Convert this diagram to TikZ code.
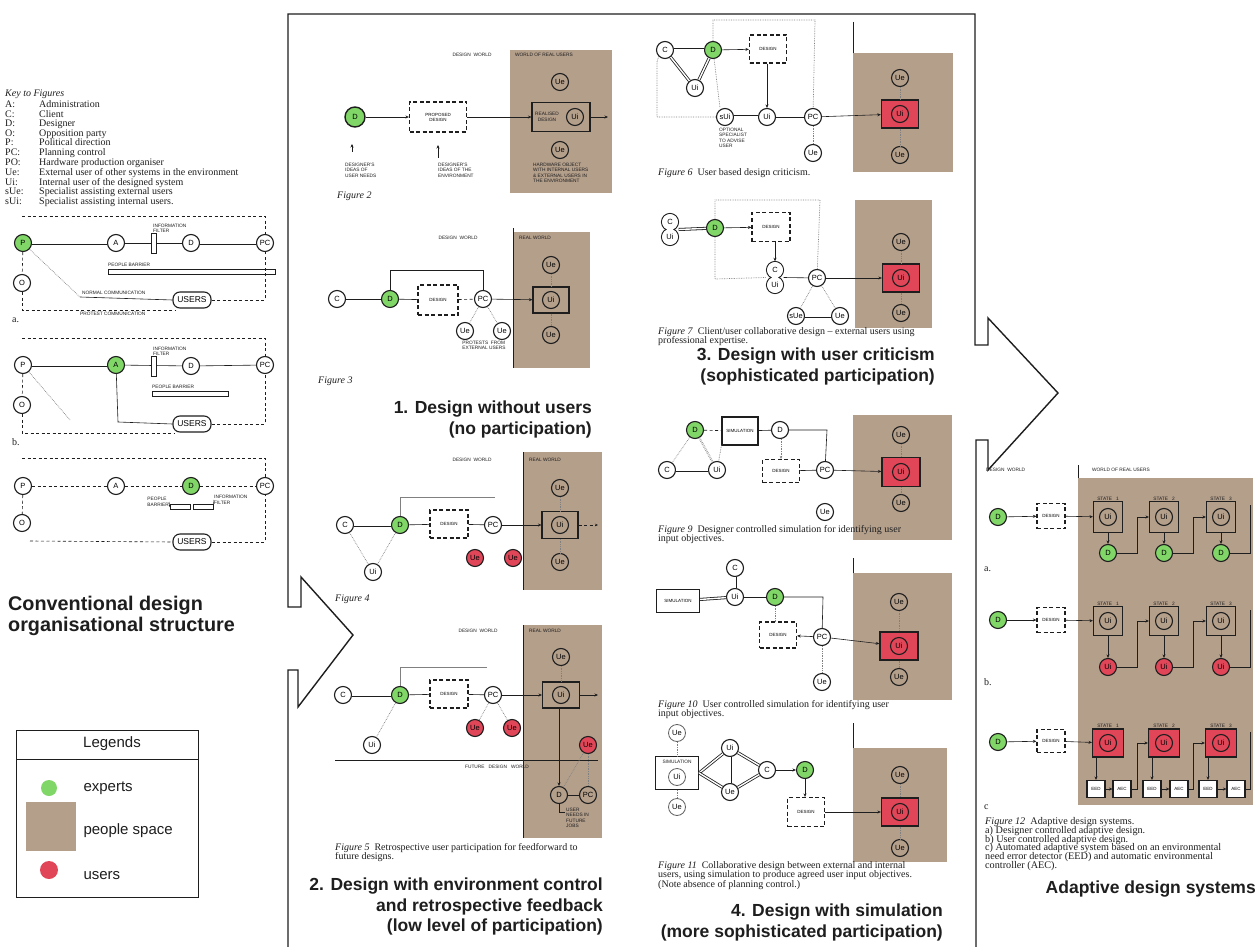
\documentclass[tikz,border=0pt]{standalone}
\usepackage{fontspec}
\setmainfont{Liberation Serif}
\setsansfont{Liberation Sans}
\usetikzlibrary{arrows.meta}
\definecolor{expgreen}{RGB}{128,214,102}
\definecolor{pbrown}{RGB}{180,159,139}
\definecolor{ured}{RGB}{225,70,88}
\definecolor{ink}{RGB}{30,30,30}
\tikzset{
 nd/.style={circle,draw=ink,line width=1.1pt,fill=white,minimum size=17pt,inner sep=0pt,font=\sffamily\fontsize{7.5}{7.5}\selectfont},
 gnd/.style={nd,fill=expgreen},
 rnd/.style={nd,fill=ured},
 dbox/.style={draw=ink,line width=1.2pt,dash pattern=on 4pt off 2.5pt,fill=white,inner sep=0pt,font=\sffamily\fontsize{4.5}{5}\selectfont,align=center},
 sbox/.style={draw=ink,line width=1.1pt,inner sep=0pt,font=\sffamily\fontsize{4.5}{5}\selectfont,align=center},
 lbl/.style={font=\sffamily\fontsize{4.8}{5.4}\selectfont,align=left,inner sep=0pt,text=ink},
 conn/.style={draw=ink,line width=0.6pt},
 arr/.style={conn,-{Stealth[length=3.5pt,width=3pt]}},
 dbl/.style={draw=ink,line width=0.8pt,double=white,double distance=1.4pt},
 dotl/.style={draw=gray,line width=0.7pt,densely dotted},
 dashl/.style={draw=ink,line width=0.6pt,dash pattern=on 3pt off 2.5pt},
 capt/.style={font=\fontsize{10}{9.6}\selectfont,execute at begin node={\lineskiplimit=-10pt\relax},align=left,inner sep=0pt,anchor=north west,text=ink},
 ttl/.style={font=\sffamily\bfseries\fontsize{17.5}{20.5}\selectfont,inner sep=0pt,text=ink},
 users/.style={draw=ink,line width=1.1pt,rounded corners=7pt,minimum width=38pt,minimum height=16pt,inner sep=0pt,font=\sffamily\fontsize{8.5}{8.5}\selectfont,fill=white},
 filt/.style={draw=ink,line width=0.6pt,fill=white,minimum width=5pt,minimum height=20pt,inner sep=0pt},
 bar/.style={draw=ink,line width=0.6pt,fill=white,inner sep=0pt},
 frame/.style={draw=ink,line width=1.4pt,line join=miter},
 redbox/.style={sbox,fill=ured,line width=1.3pt,minimum width=37pt,minimum height=28pt},
}
\begin{document}
\begin{tikzpicture}[x=1pt,y=-1pt]
\useasboundingbox (0,0) rectangle (1259,947);
\fill[white] (0,0) rectangle (1259,947);

% ---------- backgrounds (people space) ----------
\fill[pbrown] (510,50) rectangle (612,193);
\fill[pbrown] (513,232) rectangle (590,368);
\fill[pbrown] (523,452) rectangle (602,590);
\fill[pbrown] (523,625) rectangle (602,838);
\fill[pbrown] (853,53) rectangle (953,172);
\fill[pbrown] (855,200) rectangle (932,328);
\fill[pbrown] (853,415) rectangle (952,540);
\fill[pbrown] (853,573) rectangle (952,700);
\fill[pbrown] (853,748) rectangle (947,862);
\fill[pbrown] (1078,478) rectangle (1253,805);
\draw[conn,line width=1pt] (513,228) -- (513,368);
\draw[conn,line width=1pt] (523,452) -- (523,590);
\draw[conn,line width=1pt] (523,625) -- (523,838);
\draw[conn,line width=1pt] (853,22) -- (853,53);
\draw[conn,line width=1pt] (853,558) -- (853,573);
\draw[conn,line width=1pt] (853,723) -- (853,748);
\draw[conn,line width=1pt] (1078,465) -- (1078,478);

% ---------- main frame with arrows ----------
\draw[frame] (288,947) -- (288,670) -- (298,670) -- (298,707) -- (353,635) -- (301,577) -- (301,607) -- (288,607) -- (288,14) -- (975,14) -- (975,345) -- (988,345) -- (988,318) -- (1058,393) -- (988,470) -- (988,440) -- (976,440) -- (976,947);

% ---------- key ----------
\node[anchor=north west,inner sep=0pt,font=\fontsize{10}{9.4}\selectfont,text=ink] (key) at (5,90) {%
\begin{tabular}{@{}p{34pt}@{}l@{}}
\multicolumn{2}{@{}l@{}}{\textit{Key to Figures}}\\[1pt]
A: & Administration\\
C: & Client\\
D: & Designer\\
O: & Opposition party\\
P: & Political direction\\
PC: & Planning control\\
PO: & Hardware production organiser\\
Ue: & External user of other systems in the environment\\
Ui: & Internal user of the designed system\\
sUe: & Specialist assisting external users\\
sUi: & Specialist assisting internal users.
\end{tabular}};

% ---------- conventional a ----------
\draw[dashl] (22,216) -- (265,216) -- (265,234);
\node[gnd] (aP) at (23,243) {P};
\node[nd] (aA) at (116,243) {A};
\node[nd] (aD) at (191,243) {D};
\node[nd] (aPC) at (265,243) {PC};
\node[nd] (aO) at (22,283) {O};
\draw[dbl] (aP) -- (aA);
\draw[conn] (aA) -- (aD);
\draw[dbl] (aD) -- (aPC);
\node[filt] (aF) at (154,243) {};
\node[lbl,anchor=south west] (aFl) at (153,233) {INFORMATION\\FILTER};
\node[lbl,anchor=south west] (aBl) at (108,267) {PEOPLE BARRIER};
\node[bar,minimum width=167pt,minimum height=5pt,anchor=north west] (aB) at (108,269) {};
\node[users] (aU) at (192,300) {USERS};
\draw[dotl] (aP) -- (80,297);
\draw[conn] (80,297) -- (aU.west);
\node[lbl,anchor=south west] (aNl) at (82,295) {NORMAL COMMUNICATION};
\draw[dashl] (aP) -- (aO);
\draw[dashl] (aO) -- (22,310) -- (175,310);
\node[lbl,anchor=north west] (aPl) at (80,312) {PROTEST COMMUNICATION};
\draw[dashl] (aU.east) -- (265,300) -- (aPC);
\node[capt] (aL) at (12,318) {a.};

% ---------- conventional b ----------
\draw[dashl] (22,338) -- (265,338) -- (265,356);
\node[nd] (bP) at (23,365) {P};
\node[gnd] (bA) at (116,365) {A};
\node[nd] (bD) at (191,366) {D};
\node[nd] (bPC) at (265,365) {PC};
\node[nd] (bO) at (22,405) {O};
\draw[dbl] (bP) -- (bA);
\draw[conn] (bA) -- (bD);
\draw[conn] (bD) -- (bPC);
\node[filt] (bF) at (154,366) {};
\node[lbl,anchor=south west] (bFl) at (153,356) {INFORMATION\\FILTER};
\node[lbl,anchor=south west] (bBl) at (152,389) {PEOPLE BARRIER};
\node[bar,minimum width=76pt,minimum height=5pt,anchor=north west] (bB) at (152,391) {};
\node[users] (bU) at (192,424) {USERS};
\draw[conn] (bA) -- (118,422) -- (bU.west);
\draw[dashl] (bP) -- (bO);
\draw[dashl] (bO) -- (22,433) -- (175,433);
\draw[dotl] (bP) -- (70,420);
\draw[dashl] (bU.east) -- (265,424) -- (bPC);
\node[capt] (bL) at (12,438) {b.};

% ---------- conventional c ----------
\draw[dashl] (22,458) -- (265,458) -- (265,477);
\node[nd] (cP) at (23,486) {P};
\node[nd] (cA) at (116,486) {A};
\node[gnd] (cD) at (191,486) {D};
\node[nd] (cPC) at (265,486) {PC};
\node[nd] (cO) at (22,523) {O};
\draw[dashl] (cP) -- (cA);
\draw[dashl] (cA) -- (cD);
\draw[dashl] (cD) -- (cPC);
\node[bar,minimum width=20pt,minimum height=5pt] (cB) at (180,507) {};
\node[bar,minimum width=20pt,minimum height=5pt] (cF) at (203,507) {};
\node[lbl,anchor=east] (cBl) at (169,502) {PEOPLE\\BARRIER};
\node[lbl,anchor=west] (cFl) at (214,500) {INFORMATION\\FILTER};
\draw[conn] (cBl.east) -- (cB.west);
\draw[conn] (cF.east) -- (cFl.west);
\node[users] (cU) at (192,542) {USERS};
\draw[dashl] (cP) -- (cO);
\draw[dashl] (30,541) -- (cU.west);
\draw[dashl] (cU.east) -- (265,542) -- (cPC);

\node[ttl,anchor=north west,align=left,font=\sffamily\bfseries\fontsize{19.8}{21}\selectfont] (t0) at (8,596) {Conventional design\\organisational structure};

% ---------- legend ----------
\draw[draw=ink,line width=1pt] (16,730) rectangle (198,897);
\draw[draw=ink,line width=1pt] (16,759) -- (198,759);
\node[font=\sffamily\fontsize{15}{15}\selectfont,text=ink] (lgT) at (112,744) {Legends};
\fill[expgreen] (49,788) circle (8pt);
\fill[pbrown] (26,802) rectangle (76,851);
\fill[ured] (49,870) circle (9pt);
\node[font=\sffamily\fontsize{15}{15}\selectfont,anchor=west,text=ink] (lg1) at (80,788) {experts};
\node[font=\sffamily\fontsize{15}{15}\selectfont,anchor=west,text=ink] (lg2) at (80,831) {people space};
\node[font=\sffamily\fontsize{15}{15}\selectfont,anchor=west,text=ink] (lg3) at (80,876) {users};

% ---------- Figure 2 ----------
\node[lbl] (f2w) at (472,55) {DESIGN \ WORLD};
\node[lbl,anchor=west] (f2r) at (515,55) {WORLD OF REAL USERS};
\node[gnd,minimum size=20pt,line width=1.4pt] (f2D) at (355,117) {D};
\node[dbox,minimum width=57pt,minimum height=30pt] (f2P) at (438,117) {PROPOSED\\DESIGN};
\node[sbox,minimum width=58pt,minimum height=29pt,fill=pbrown] (f2R) at (561,117) {};
\node[lbl,align=center] (f2Rt) at (547,117) {REALISED\\DESIGN};
\node[nd,fill=pbrown] (f2Ui) at (575,117) {Ui};
\node[nd,fill=pbrown] (f2Ue1) at (560,82) {Ue};
\node[nd,fill=pbrown] (f2Ue2) at (560,150) {Ue};
\draw[arr] (f2D) -- (f2P);
\draw[arr] (f2P) -- (f2R);
\draw[arr] (f2R.east) -- (608,117);
\node[lbl,anchor=north west] (f2t1) at (345,163) {DESIGNER'S\\IDEAS OF\\USER NEEDS};
\node[lbl,anchor=north west] (f2t2) at (438,163) {DESIGNER'S\\IDEAS OF THE\\ENVIRONMENT};
\node[lbl,anchor=north west] (f2t3) at (533,163) {HARDWARE OBJECT\\WITH INTERNAL USERS\\\& EXTERNAL USERS IN\\THE ENVIRONMENT};
\coordinate (f2a1) at (352,152); \coordinate (f2a1b) at (352,144);
\coordinate (f2a2) at (438,158); \coordinate (f2a2b) at (438,145);
\draw[arr,line width=0.4pt] (f2a1) -- (f2a1b);
\draw[arr,line width=0.4pt] (f2a2) -- (f2a2b);
\node[capt,font=\itshape\fontsize{10}{10}\selectfont] (f2c) at (337,192) {Figure 2};

% ---------- Figure 3 ----------
\node[lbl] (f3w) at (458,238) {DESIGN \ WORLD};
\node[lbl,anchor=west] (f3r) at (519,238) {REAL WORLD};
\node[nd] (f3C) at (337,299) {C};
\node[gnd] (f3D) at (390,299) {D};
\node[dbox,minimum width=40pt,minimum height=30pt] (f3X) at (438,300) {DESIGN};
\node[nd] (f3PC) at (483,299) {PC};
\node[sbox,minimum width=36pt,minimum height=26pt] (f3B) at (551,300) {};
\node[nd,fill=pbrown] (f3Ui) at (551,300) {Ui};
\node[nd,fill=pbrown] (f3Ue1) at (551,265) {Ue};
\node[nd,fill=pbrown] (f3Ue2) at (551,335) {Ue};
\node[nd] (f3Ue3) at (465,331) {Ue};
\node[nd] (f3Ue4) at (502,331) {Ue};
\draw[conn] (f3C) -- (f3D);
\draw[conn] (f3D) -- (f3X);
\draw[dashl] (f3X) -- (f3PC);
\draw[arr] (f3PC) -- (f3B);
\draw[conn] (f3D) -- (390,270) -- (483,270) -- (f3PC);
\draw[dotl] (f3PC) -- (f3Ue3);
\draw[dotl] (f3PC) -- (f3Ue4);
\draw[dotl] (f3Ue1) -- (f3B);
\draw[dotl] (f3B) -- (f3Ue2);
\node[lbl,anchor=north] (f3t) at (484,341) {PROTESTS \ FROM\\EXTERNAL USERS};
\node[capt,font=\itshape\fontsize{10}{10}\selectfont] (f3c) at (318,377) {Figure 3};

\node[ttl,anchor=north east,align=right] (t1) at (592,401) {1. Design without users\\(no participation)};

% ---------- Figure 4 ----------
\node[lbl] (f4w) at (472,460) {DESIGN \ WORLD};
\node[lbl,anchor=west] (f4r) at (529,460) {REAL WORLD};
\node[nd] (f4C) at (345,525) {C};
\node[gnd] (f4D) at (400,525) {D};
\node[dbox,minimum width=38pt,minimum height=28pt] (f4X) at (449,524) {DESIGN};
\node[nd] (f4PC) at (493,525) {PC};
\node[sbox,minimum width=36pt,minimum height=27pt] (f4B) at (560,525) {};
\node[nd,fill=pbrown] (f4Ui) at (560,525) {Ui};
\node[nd,fill=pbrown] (f4Ue1) at (560,488) {Ue};
\node[nd,fill=pbrown] (f4Ue2) at (560,562) {Ue};
\node[rnd] (f4Ue3) at (475,558) {Ue};
\node[rnd] (f4Ue4) at (513,558) {Ue};
\node[nd] (f4Ui2) at (373,572) {Ui};
\draw[dbl] (f4C) -- (f4D);
\draw[conn] (f4D) -- (f4X);
\draw[conn] (f4X) -- (f4PC);
\draw[arr] (f4PC) -- (f4B);
\draw[dashl,-{Stealth[length=3pt,width=2.5pt]}] (f4B) -- (598,525);
\draw[conn,draw=gray] (f4D) -- (400,497) -- (495,497);
\draw[dotl] (f4C) -- (f4Ui2);
\draw[dotl] (f4D) -- (f4Ui2);
\draw[dotl] (f4Ue1) -- (f4B);
\draw[dotl] (f4B) -- (f4Ue2);
\node[capt,font=\itshape\fontsize{10}{10}\selectfont] (f4c) at (335,595) {Figure 4};

% ---------- Figure 5 ----------
\node[lbl] (f5w) at (478,631) {DESIGN \ WORLD};
\node[lbl,anchor=west] (f5r) at (529,631) {REAL WORLD};
\node[nd] (f5C) at (343,695) {C};
\node[gnd] (f5D) at (400,695) {D};
\node[dbox,minimum width=38pt,minimum height=28pt] (f5X) at (449,694) {DESIGN};
\node[nd] (f5PC) at (493,695) {PC};
\node[sbox,minimum width=37pt,minimum height=26pt] (f5B) at (561,695) {};
\node[nd,fill=pbrown] (f5Ui) at (561,695) {Ui};
\node[nd,fill=pbrown] (f5Ue1) at (561,657) {Ue};
\node[rnd] (f5Ue3) at (475,728) {Ue};
\node[rnd] (f5Ue4) at (512,728) {Ue};
\node[rnd] (f5Ue5) at (588,745) {Ue};
\node[nd] (f5Ui2) at (372,745) {Ui};
\draw[dbl] (f5C) -- (f5D);
\draw[conn] (f5D) -- (f5X);
\draw[conn] (f5X) -- (f5PC);
\draw[arr] (f5PC) -- (f5B);
\draw[arr] (f5B) -- (598,695);
\draw[conn,draw=gray] (f5D) -- (400,667) -- (487,667);
\draw[dotl] (f5D) -- (f5Ui2);
\draw[dotl] (f5PC) -- (f5Ue3);
\draw[dotl] (f5PC) -- (f5Ue4);
\draw[dotl] (f5Ue1) -- (f5B);
\draw[conn,line width=1pt] (335,760) -- (598,760);
\node[lbl] (f5f) at (497,767) {FUTURE \ \ DESIGN \ \ WORLD};
\node[nd,fill=pbrown] (f5D2) at (559,795) {D};
\node[nd,fill=pbrown] (f5PC2) at (588,795) {PC};
\draw[arr] (f5B.south -| f5D2.north) -- (f5D2.north);
\draw[conn] (f5D2) -- (f5PC2);
\draw[dotl] (f5Ue5) -- (f5D2);
\draw[dotl] (f5Ue5) -- (f5PC2);
\draw[conn] (f5D2.south) -- (559,812) -- (565,812);
\node[lbl,anchor=north west] (f5t) at (566,808) {USER\\NEEDS IN\\FUTURE\\JOBS};
\node[capt] (f5c) at (335,843) {\textit{Figure 5}\ \ Retrospective user participation for feedforward to\\future designs.};

\node[ttl,anchor=north east,align=right] (t2) at (603,878) {2. Design with environment control\\and retrospective feedback\\(low level of participation)};

% ---------- Figure 6 ----------
\node[nd] (f6C) at (665,50) {C};
\node[gnd] (f6D) at (713,50) {D};
\node[dbox,minimum width=37pt,minimum height=28pt] (f6X) at (768,49) {DESIGN};
\node[nd] (f6Uj) at (695,88) {Ui};
\node[nd] (f6sU) at (725,117) {sUi};
\node[nd] (f6Ui) at (767,117) {Ui};
\node[nd] (f6PC) at (813,117) {PC};
\node[nd] (f6Ue) at (813,153) {Ue};
\node[redbox] (f6B) at (900,114) {};
\node[rnd] (f6Ui2) at (900,114) {Ui};
\node[nd,fill=pbrown] (f6Ue1) at (900,78) {Ue};
\node[nd,fill=pbrown] (f6Ue2) at (900,155) {Ue};
\draw[dbl] (f6D) -- (f6C);
\draw[dbl] (f6C) -- (f6Uj);
\draw[dbl] (f6D) -- (f6Uj);
\draw[arr] (f6D) -- (f6X);
\draw[arr] (f6X.south -| f6Ui.north) -- (f6Ui.north);
\draw[dbl] (f6sU) -- (f6Ui);
\draw[conn] (f6Ui) -- (f6PC);
\draw[arr] (f6PC) -- (f6B);
\draw[dotl] (f6PC) -- (f6Ue);
\draw[dotl] (f6D) -- (713,20) -- (815,20) -- (f6PC);
\draw[dotl] (f6C.south west) -- (657,62) -- (657,117) -- (f6sU);
\draw[dotl] (f6D) -- (720,108);
\draw[dotl] (f6Ue1) -- (f6B);
\draw[dotl] (f6B) -- (f6Ue2);
\node[lbl,anchor=north west] (f6t) at (719,128) {OPTIONAL\\SPECIALIST\\TO ADVISE\\USER};
\node[capt] (f6c) at (658,168) {\textit{Figure 6}\ \ User based design criticism.};

% ---------- Figure 7 ----------
\draw[draw=ink,line width=1.1pt,fill=white] (670,222) circle (8.5pt) (670,237) circle (8.5pt);
\fill[white] (670,222) circle (7.9pt) (670,237) circle (7.9pt);
\node[minimum width=17pt,minimum height=32pt,inner sep=0pt] (f7CU1) at (670,229.5) {};
\node[font=\sffamily\fontsize{7.5}{7.5}\selectfont] (f7C1) at (670,222) {C};
\node[font=\sffamily\fontsize{7.5}{7.5}\selectfont] (f7U1) at (670,237) {Ui};
\draw[draw=ink,line width=1.1pt,fill=white] (775,270) circle (8.5pt) (775,285) circle (8.5pt);
\fill[white] (775,270) circle (7.9pt) (775,285) circle (7.9pt);
\node[minimum width=17pt,minimum height=32pt,inner sep=0pt] (f7CU2) at (775,277.5) {};
\node[font=\sffamily\fontsize{7.5}{7.5}\selectfont] (f7C2) at (775,270) {C};
\node[font=\sffamily\fontsize{7.5}{7.5}\selectfont] (f7U2) at (775,285) {Ui};
\node[gnd] (f7D) at (715,228) {D};
\node[dbox,minimum width=38pt,minimum height=29pt] (f7X) at (771,227) {DESIGN};
\node[nd] (f7PC) at (817,278) {PC};
\node[nd] (f7sU) at (796,316) {sUe};
\node[nd] (f7Ue) at (840,316) {Ue};
\node[redbox] (f7B) at (901,278) {};
\node[rnd] (f7Ui2) at (901,278) {Ui};
\node[nd,fill=pbrown] (f7Ue1) at (901,242) {Ue};
\node[nd,fill=pbrown] (f7Ue2) at (901,313) {Ue};
\draw[dbl] (f7CU1.east) -- (f7D);
\draw[arr] (f7D) -- (f7X);
\draw[arr] (f7X.south -| f7CU2.north) -- (f7CU2.north);
\draw[conn] (f7CU2.east) -- (f7PC);
\draw[arr] (f7PC) -- (f7B);
\draw[dotl] (f7PC) -- (f7sU);
\draw[dotl] (f7PC) -- (f7Ue);
\draw[dbl] (f7sU) -- (f7Ue);
\draw[dotl] (f7D) -- (715,200) -- (820,200) -- (f7PC);
\draw[dotl] (f7D) -- (715,279) -- (f7CU2.west);
\draw[dotl] (f7Ue1) -- (f7B);
\draw[dotl] (f7B) -- (f7Ue2);
\node[capt] (f7c) at (658,327) {\textit{Figure 7}\ \ Client/user collaborative design -- external users using\\professional expertise.};

\node[ttl,anchor=north east,align=right] (t3) at (935,348) {3. Design with user criticism\\(sophisticated participation)};

% ---------- Figure 9 ----------
\node[gnd] (f9D) at (695,430) {D};
\node[sbox,minimum width=36pt,minimum height=28pt,fill=white] (f9S) at (740,431) {SIMULATION};
\node[nd] (f9D2) at (780,430) {D};
\node[nd] (f9C) at (667,470) {C};
\node[nd] (f9Ui) at (717,470) {Ui};
\node[dbox,minimum width=37pt,minimum height=23pt] (f9X) at (781,471) {DESIGN};
\node[nd] (f9PC) at (825,470) {PC};
\node[nd] (f9Ue) at (825,512) {Ue};
\node[redbox,minimum width=38pt,minimum height=29pt] (f9B) at (901,472) {};
\node[rnd] (f9Ui2) at (901,472) {Ui};
\node[nd,fill=pbrown] (f9Ue1) at (901,435) {Ue};
\node[nd,fill=pbrown] (f9Ue2) at (901,503) {Ue};
\draw[dashl] (f9D) -- (f9S);
\draw[conn] (f9S) -- (f9D2);
\draw[conn] (f9D2) -- (827,430) -- (f9PC);
\draw[dotl,-{Stealth[length=3pt,width=2.5pt]}] (f9D2.south -| f9X.north) -- (f9X.north);
\draw[conn] (f9X) -- (f9PC);
\draw[arr] (f9PC) -- (f9B);
\draw[dotl] (f9D) -- (f9C);
\draw[dotl,double] (f9D) -- (f9Ui);
\draw[dbl] (f9C) -- (f9Ui);
\draw[dotl] (f9S.south west) -- (f9Ui);
\draw[dotl] (f9Ue1) -- (f9B);
\draw[dotl] (f9B) -- (f9Ue2);
\node[capt] (f9c) at (658,525) {\textit{Figure 9}\ \ Designer controlled simulation for identifying user\\input objectives.};

% ---------- Figure 10 ----------
\node[nd] (faC) at (735,568) {C};
\node[nd] (faUi) at (735,597) {Ui};
\node[sbox,minimum width=43pt,minimum height=23pt,fill=white] (faS) at (678,601) {SIMULATION};
\node[gnd] (faD) at (775,597) {D};
\node[dbox,minimum width=37pt,minimum height=26pt] (faX) at (778,635) {DESIGN};
\node[nd] (faPC) at (822,637) {PC};
\node[nd] (faUe) at (822,682) {Ue};
\node[redbox,minimum width=38pt,minimum height=28pt] (faB) at (899,646) {};
\node[rnd] (faUi2) at (899,646) {Ui};
\node[nd,fill=pbrown] (faUe1) at (899,602) {Ue};
\node[nd,fill=pbrown] (faUe2) at (899,677) {Ue};
\draw[dbl] (faC) -- (faUi);
\draw[dbl] (faS) -- (faUi);
\draw[conn] (faUi) -- (faD);
\draw[conn] (faD) -- (823,597) -- (faPC);
\draw[dotl] (faD) -- (faD |- faX.north);
\draw[arr] (faPC) -- (faX);
\draw[arr] (faPC) -- (faB);
\draw[dotl] (faPC) -- (faUe);
\draw[dotl] (faUe1) -- (faB);
\draw[dotl] (faB) -- (faUe2);
\node[capt] (fac) at (658,700) {\textit{Figure 10}\ \ User controlled simulation for identifying user\\input objectives.};

% ---------- Figure 11 ----------
\node[sbox,minimum width=43pt,minimum height=33pt,fill=white] (fbS) at (677,773) {};
\node[lbl] (fbSl) at (677,762) {SIMULATION};
\node[nd,draw=ink!70,line width=0.8pt] (fbSi) at (677,777) {Ui};
\node[nd,draw=ink!70,line width=0.8pt] (fbUe1) at (677,733) {Ue};
\node[nd,draw=ink!70,line width=0.8pt] (fbUe2) at (677,807) {Ue};
\node[nd] (fbUi) at (730,748) {Ui};
\node[nd] (fbUe) at (730,792) {Ue};
\node[nd] (fbC) at (767,770) {C};
\node[gnd] (fbD) at (805,770) {D};
\node[dbox,minimum width=37pt,minimum height=29pt] (fbX) at (806,812) {DESIGN};
\node[redbox] (fbB) at (900,812) {};
\node[rnd] (fbUi2) at (900,812) {Ui};
\node[nd,fill=pbrown] (fbUe3) at (900,775) {Ue};
\node[nd,fill=pbrown] (fbUe4) at (900,848) {Ue};
\draw[dotl] (fbUe1) -- (fbS);
\draw[dotl] (fbS) -- (fbUe2);
\draw[dbl] (fbS.east) -- (fbUi);
\draw[dbl] (fbS.east) -- (fbUe);
\draw[dbl] (fbUi) -- (fbUe);
\draw[dbl] (fbUi) -- (fbC);
\draw[dbl] (fbUe) -- (fbC);
\draw[arr] (fbC) -- (fbD);
\draw[arr] (fbD) -- (fbD |- fbX.north);
\draw[arr] (fbX) -- (fbB);
\draw[dotl] (fbUe3) -- (fbB);
\draw[dotl] (fbB) -- (fbUe4);
\node[capt] (fbc) at (658,861) {\textit{Figure 11}\ \ Collaborative design between external and internal\\users, using simulation to produce agreed user input objectives.\\(Note absence of planning control.)};

\node[ttl,anchor=north east,align=right] (t4) at (943,904) {4. Design with simulation\\(more sophisticated participation)};

% ---------- Figure 12 ----------
\node[lbl,anchor=west] (q0) at (986,470) {DESIGN \ WORLD};
\node[lbl,anchor=west] (q1) at (1092,470) {WORLD OF REAL USERS};
% row a
\node[gnd] (qaD) at (998,517) {D};
\node[dbox,minimum width=28pt,minimum height=25pt] (qaX) at (1051,516) {DESIGN};
\foreach \i/\x in {1/1108,2/1164,3/1221}{
 \node[sbox,minimum width=29pt,minimum height=31pt,fill=pbrown] (qaS\i) at (\x,517) {};
 \node[nd,fill=pbrown] (qaU\i) at (\x,517) {Ui};
 \node[lbl,anchor=south] (qaT\i) at (\x,501) {STATE \ \ \i};
 \node[gnd] (qaL\i) at (\x,553) {D};
 \draw[arr] (qaS\i.south) -- (qaL\i.north);
}
\draw[arr] (qaD) -- (qaX);
\draw[arr] (qaX) -- (qaS1);
\draw[arr] (qaL1.east) -- (1137,553) -- (1137,517) -- (qaS2.west);
\draw[arr] (qaL2.east) -- (1193,553) -- (1193,517) -- (qaS3.west);
\draw[conn] (qaL3.east) -- (1250,553) -- (1250,505);
\node[capt] (qaa) at (984,567) {a.};
% row b
\node[gnd] (qbD) at (998,620) {D};
\node[dbox,minimum width=28pt,minimum height=25pt] (qbX) at (1051,620) {DESIGN};
\foreach \i/\x in {1/1108,2/1164,3/1221}{
 \node[sbox,minimum width=29pt,minimum height=29pt,fill=pbrown] (qbS\i) at (\x,621) {};
 \node[nd,fill=pbrown] (qbU\i) at (\x,621) {Ui};
 \node[lbl,anchor=south] (qbT\i) at (\x,606) {STATE \ \ \i};
 \node[rnd] (qbL\i) at (\x,667) {Ui};
 \draw[arr] (qbS\i.south) -- (qbL\i.north);
}
\draw[arr] (qbD) -- (qbX);
\draw[arr] (qbX) -- (qbS1);
\draw[arr] (qbL1.east) -- (1137,667) -- (1137,621) -- (qbS2.west);
\draw[arr] (qbL2.east) -- (1193,667) -- (1193,621) -- (qbS3.west);
\draw[conn] (qbL3.east) -- (1250,667) -- (1250,610);
\node[capt] (qbb) at (984,678) {b.};
% row c
\node[gnd] (qcD) at (998,742) {D};
\node[dbox,minimum width=28pt,minimum height=23pt] (qcX) at (1051,741) {DESIGN};
\foreach \i/\x/\e/\a in {1/1108/1096/1122,2/1164/1152/1179,3/1221/1208/1236}{
 \node[sbox,minimum width=31pt,minimum height=28pt,fill=ured] (qcS\i) at (\x,743) {};
 \node[rnd] (qcU\i) at (\x,743) {Ui};
 \node[lbl,anchor=south] (qcT\i) at (\x,728) {STATE \ \ \i};
 \node[sbox,fill=white,minimum width=18pt,minimum height=17pt] (qcE\i) at (\e,789) {EED};
 \node[sbox,fill=white,minimum width=18pt,minimum height=17pt] (qcA\i) at (\a,789) {AEC};
 \draw[arr] (qcE\i.north |- qcS\i.south) -- (qcE\i.north);
 \draw[arr] (qcE\i) -- (qcA\i);
}
\draw[arr] (qcD) -- (qcX);
\draw[arr] (qcX) -- (qcS1);
\draw[arr] (qcA1.east) -- (1137,789) -- (1137,743) -- (qcS2.west);
\draw[arr] (qcA2.east) -- (1193,789) -- (1193,743) -- (qcS3.west);
\draw[conn] (qcA3.east) -- (1250,789) -- (1250,732);
\node[capt] (qcc) at (984,805) {c};
\node[capt,font=\fontsize{10.2}{8.9}\selectfont] (q12c) at (985,817) {\textit{Figure 12}\ \ Adaptive design systems.\\a) Designer controlled adaptive design.\\b) User controlled adaptive design.\\c) Automated adaptive system based on an environmental\\need error detector (EED) and automatic environmental\\controller (AEC).};

\node[ttl,anchor=north east] (t5) at (1256,881) {Adaptive design systems};
\end{tikzpicture}
\end{document}
